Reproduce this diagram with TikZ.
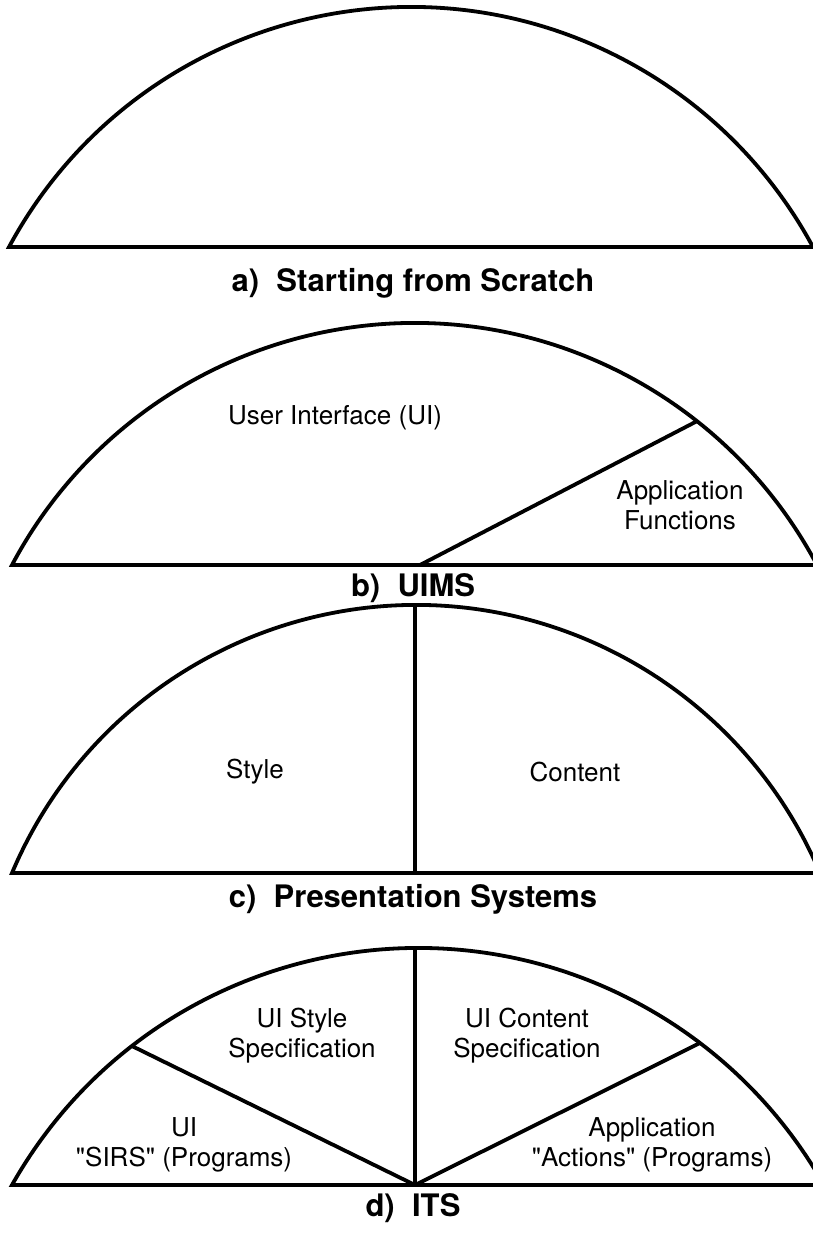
\documentclass[tikz,border=0pt]{standalone}
\usepackage{fontspec}
\setmainfont{TeX Gyre Heros}
\usetikzlibrary{calc}
\tikzset{
  outline/.style={line width=3.8pt, line join=miter},
  lbl/.style={font=\fontsize{26}{30}\selectfont, align=center, inner sep=0pt},
  capt/.style={font=\bfseries\fontsize{31}{34}\selectfont, inner sep=0pt}
}
% #1 name, #2 xl, #3 xr, #4 base (px from top), #5 top (px from top)
\newcommand\mydome[5]{%
  \pgfmathsetmacro\hc{(#3-#2)/2}%
  \pgfmathsetmacro\sg{#4-#5}%
  \pgfmathsetmacro\Rad{\sg/2+\hc*(\hc/\sg)/2}%
  \pgfmathsetmacro\th{asin(\hc/\Rad)}%
  \pgfmathsetmacro\cxx{(#2+#3)/2}%
  \pgfmathsetmacro\cyy{-#5-\Rad}%
  \expandafter\xdef\csname R#1\endcsname{\Rad}%
  \expandafter\xdef\csname cx#1\endcsname{\cxx}%
  \coordinate (#1c) at (\cxx,\cyy);
  \draw[outline] (#2,-#4) arc[start angle=90+\th, end angle=90-\th, radius=\Rad] -- cycle;
}
% point on arc of panel #1 at x=#2, named #3
\newcommand\arcpt[3]{%
  \pgfmathsetmacro\ang{acos((#2-\csname cx#1\endcsname)/\csname R#1\endcsname)}%
  \coordinate (#3) at ($(#1c)+(\ang:\csname R#1\endcsname)$);
}
\begin{document}
\begin{tikzpicture}[x=1pt,y=1pt]
\useasboundingbox (0,0) rectangle (813,-1237);
% a
\mydome{a}{9}{813}{247}{7}
\node[capt] (capa) at (413,-283) {a)\ \ Starting from Scratch};
% b
\mydome{b}{12}{817}{565}{323}
\arcpt{b}{697}{bj}
\coordinate (bb) at (420,-565);
\draw[outline] (bb) -- (bj);
\node[lbl] (ui) at (335,-418) {User Interface (UI)};
\node[lbl] (appf) at (680,-505) {Application\\Functions};
\node[capt] (capb) at (413,-588) {b)\ \ UIMS};
% c
\mydome{c}{12}{820}{873}{605}
\coordinate (cb) at (415,-873);
\coordinate (ct) at (415,-605);
\draw[outline] (cb) -- (ct);
\node[lbl] (style) at (255,-772) {Style};
\node[lbl] (content) at (575,-772) {Content};
\node[capt] (capc) at (413,-899) {c)\ \ Presentation Systems};
% d
\mydome{d}{12}{824}{1185}{948}
\arcpt{d}{132}{dl}
\arcpt{d}{700}{dr}
\coordinate (db) at (415,-1185);
\coordinate (dt) at (415,-948);
\draw[outline] (db) -- (dt);
\draw[outline] (db) -- (dl);
\draw[outline] (db) -- (dr);
\node[lbl] (uis) at (302,-1036) {UI Style\\Specification};
\node[lbl] (uic) at (527,-1036) {UI Content\\Specification};
\node[lbl] (sirs) at (184,-1145) {UI\\\textquotedbl SIRS\textquotedbl\ (Programs)};
\node[lbl] (act) at (652,-1145) {Application\\\textquotedbl Actions\textquotedbl\ (Programs)};
\node[capt] (capd) at (413,-1208) {d)\ \ ITS};
\end{tikzpicture}
\end{document}
